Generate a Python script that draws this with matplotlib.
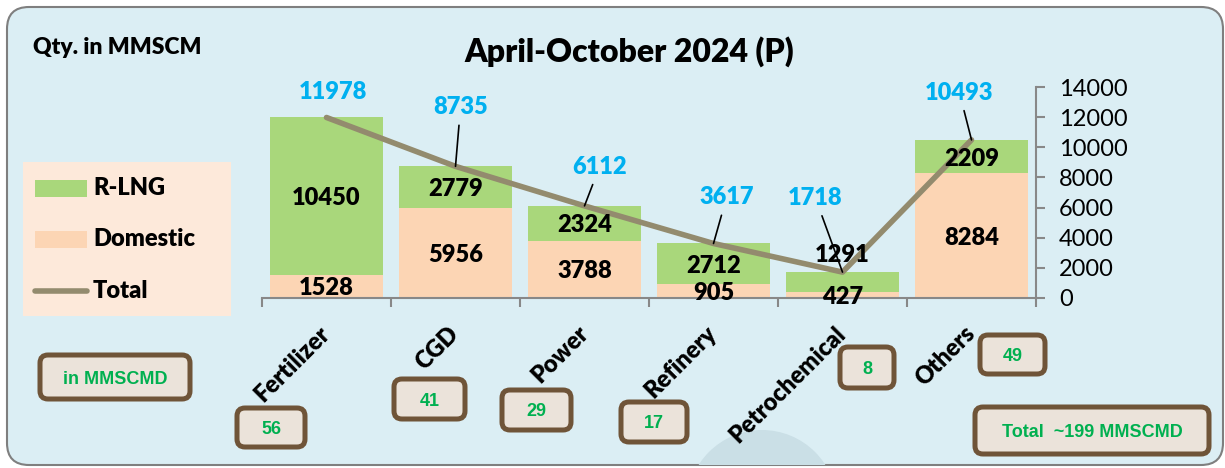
import matplotlib.pyplot as plt
from matplotlib.patches import FancyBboxPatch, Rectangle, Circle
import numpy as np

plt.rcParams['font.family'] = ['Lato', 'DejaVu Sans']

# data (MMSCM, April-October 2024)
categories = ['Fertilizer', 'CGD', 'Power', 'Refinery', 'Petrochemical', 'Others']
domestic = [1528, 5956, 3788, 905, 427, 8284]
rlng = [10450, 2779, 2324, 2712, 1291, 2209]
total = [11978, 8735, 6112, 3617, 1718, 10493]
mmscmd = [56, 41, 29, 17, 8, 49]
total_mmscmd = 199

# colours
GREEN = '#A9D77B'
PEACH = '#FCD5B4'
LINE = '#938B6E'
BLUE = '#00B0F0'
BG = '#DBEEF4'
GRAY = '#888888'

W, H = 1225, 468
fig = plt.figure(figsize=(W / 100, H / 100), dpi=100)

# background layer in pixel coords
bg = fig.add_axes([0, 0, 1, 1], zorder=0)
bg.set_xlim(0, W)
bg.set_ylim(H, 0)
bg.axis('off')

frame = FancyBboxPatch((7, 7), 1216, 458, boxstyle='round,pad=0,rounding_size=22',
                       fc=BG, ec='#7F7F7F', lw=1.5)
bg.add_patch(frame)
blob = Circle((762, 505), 75, fc='#CADFE6', ec='none')
bg.add_patch(blob)
blob.set_clip_path(frame)

bg.text(33, 48, 'Qty. in MMSCM', fontsize=16.5, fontweight='heavy', va='center')
bg.text(629, 52, 'April-October 2024 (P)', fontsize=23, fontweight='heavy',
        ha='center', va='center')

# legend
bg.add_patch(Rectangle((23, 162), 208, 154, fc='#FDE9DA', ec='none'))
bg.add_patch(Rectangle((35, 180), 52, 17, fc=GREEN, ec='none'))
bg.add_patch(Rectangle((35, 231), 52, 17, fc=PEACH, ec='none'))
bg.plot([35, 87], [291, 291], color=LINE, lw=4, solid_capstyle='round')
for yy, lab in zip([188, 239, 291], ['R-LNG', 'Domestic', 'Total']):
    bg.text(93, yy, lab, fontsize=17, fontweight='heavy', va='center')


def box(x0, y0, x1, y1, txt, size=13):
    bg.add_patch(FancyBboxPatch((x0, y0), x1 - x0, y1 - y0,
                                boxstyle='round,pad=0,rounding_size=8',
                                fc='#EBE3DA', ec='#6F5438', lw=3.6))
    bg.text((x0 + x1) / 2, (y0 + y1) / 2 + 2, txt, fontsize=size, fontweight='bold',
            color='#00B050', ha='center', va='center', family='Liberation Sans')


box(40, 355, 190, 399, 'in MMSCMD')
box_pos = [(237, 408, 305, 447), (394, 379, 465, 419), (502, 390, 571, 430),
           (621, 402, 687, 442), (840, 347, 894, 388), (980, 335, 1045, 374)]
for (x0, y0, x1, y1), v in zip(box_pos, mmscmd):
    box(x0, y0, x1, y1, str(v))
box(975, 407, 1209, 454, 'Total  ~%d MMSCMD' % total_mmscmd)

# main chart
ax = fig.add_axes([262 / W, 1 - 298 / H, 774 / W, 211 / H], zorder=1)
ax.set_facecolor('none')
x = np.arange(len(categories))
ax.bar(x, domestic, width=0.875, color=PEACH, zorder=2)
ax.bar(x, rlng, bottom=domestic, width=0.875, color=GREEN, zorder=2)
ax.plot(x, total, color=LINE, lw=4, solid_capstyle='round', zorder=3)

ax.set_xlim(-0.5, 5.5)
ax.set_ylim(0, 14000)
for s in ['top', 'left']:
    ax.spines[s].set_visible(False)
for s in ['bottom', 'right']:
    ax.spines[s].set_color(GRAY)
    ax.spines[s].set_linewidth(1.5)

ax.yaxis.tick_right()
ax.set_yticks(np.arange(0, 14001, 2000))
ax.tick_params(axis='y', length=6.5, width=1.5, color=GRAY, labelsize=17, pad=10)

ax.set_xticks(x)
ax.set_xticklabels(categories, rotation=45, ha='right', va='center',
                   rotation_mode='anchor', fontsize=17, fontweight='heavy')
ax.set_xticks(np.arange(-0.5, 6, 1), minor=True)
ax.tick_params(axis='x', which='major', length=0, pad=23)
ax.tick_params(axis='x', which='minor', length=6.5, width=1.5, color=GRAY)

# segment labels
rlng_dy = [0, 0, 0, 0, -29, 0]  # pixel shift of label
for i in range(len(categories)):
    ax.annotate(str(domestic[i]), (x[i], domestic[i] / 2), xytext=(0, -2),
                textcoords='offset pixels', ha='center', va='center',
                fontsize=17, fontweight='heavy', zorder=4)
    ax.annotate(str(rlng[i]), (x[i], domestic[i] + rlng[i] / 2), xytext=(0, -2 - rlng_dy[i]),
                textcoords='offset pixels', ha='center', va='center',
                fontsize=17, fontweight='heavy', zorder=4)

# total labels with leader lines
tot_off = [(6, 25), (5, 59), (15, 39), (13, 46), (-27, 74), (-12, 47)]
leader = [False, True, True, True, True, True]
for i in range(len(categories)):
    kw = {}
    if leader[i]:
        kw['arrowprops'] = dict(arrowstyle='-', color='black', lw=1.2, shrinkA=3, shrinkB=0)
    ax.annotate(str(total[i]), (x[i], total[i]), xytext=tot_off[i],
                textcoords='offset pixels', ha='center', va='center', color=BLUE,
                fontsize=17, fontweight='heavy', zorder=5, annotation_clip=False, **kw)

fig.savefig('out.png', dpi=100)
